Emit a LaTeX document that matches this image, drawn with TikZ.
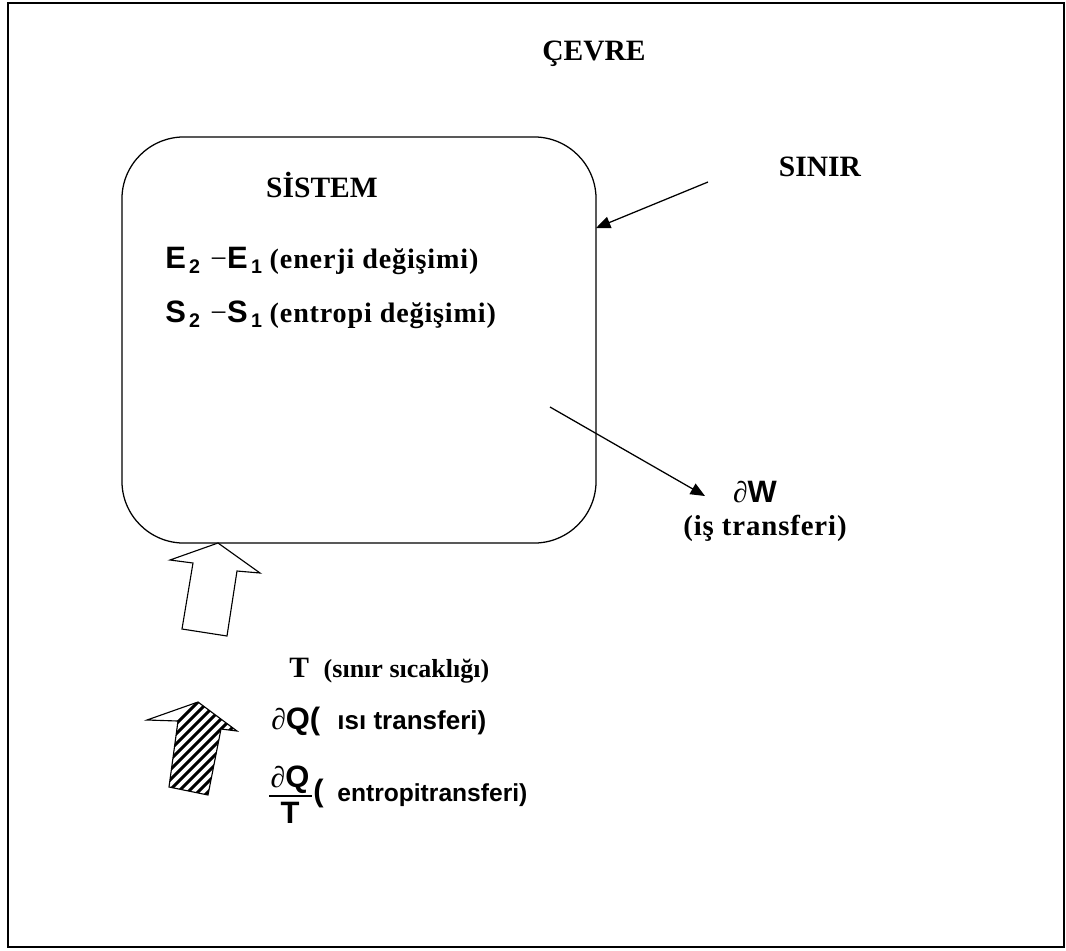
\documentclass[tikz,border=0pt]{standalone}
\usepackage{fontspec}
\setmainfont{Liberation Serif}
\newfontfamily\arialf{Liberation Sans}
\newfontfamily\spacedserif{Liberation Serif}[LetterSpace=3]
\usetikzlibrary{arrows.meta}

% helpers for the formula pieces
\newcommand{\symb}[1]{{\fontsize{21}{21}\selectfont\mdseries #1}}
\newcommand{\bsans}[1]{{\arialf\bfseries #1}}
\newcommand{\subidx}[1]{\raisebox{-0.4ex}{\fontsize{14}{14}\selectfont\arialf\bfseries #1}}

\begin{document}
\begin{tikzpicture}[x=0.025cm,y=-0.025cm,
  title/.style={font=\fontsize{21}{21}\selectfont\bfseries, inner sep=0pt},
  formula/.style={font=\fontsize{22}{22}\selectfont\bfseries, inner sep=0pt, anchor=base west},
  note/.style={font=\fontsize{18}{18}\selectfont\bfseries, inner sep=0pt},
  pointer/.style={line width=0.9pt, -{Triangle[length=3.6mm,width=3mm]}},
  outline/.style={line width=0.8pt, line join=miter}]

\useasboundingbox (0,0) rectangle (1066,950);

% environment frame
\draw[line width=1.4pt] (8,3) rectangle (1064,947);

% the system
\node[draw, line width=0.9pt, rounded corners=1.55cm,
      minimum width=11.85cm, minimum height=10.15cm] (sys) at (359,340) {};

\node[title, anchor=base] (cevre) at (594,60) {ÇEVRE};
\node[title, anchor=base] (sistem) at (322,197) {SİSTEM};
\node[title, anchor=base] (sinir) at (820,176) {SINIR};

\node[formula] (erow) at (165,268)
  {\bsans{E}\subidx{\,2}\,\,\symb{−}\bsans{E}\subidx{\,1}\ {\spacedserif\fontsize{20}{20}\selectfont(enerji değişimi)}};
\node[formula] (srow) at (165,322)
  {\bsans{S}\subidx{\,2}\,\,\symb{−}\bsans{S}\subidx{\,1}\ {\spacedserif\fontsize{20}{20}\selectfont(entropi değişimi)}};

% boundary pointer
\coordinate (sinirtail) at (708,182);
\coordinate (sinirtip) at (596,228);
\draw[pointer] (sinirtail) -- (sinirtip);

% work transfer
\coordinate (wtail) at (550,407);
\coordinate (wtip) at (705,496);
\draw[pointer] (wtail) -- (wtip);
\node[formula, anchor=base] (dw) at (755,502) {\symb{∂}\bsans{W}};
\node[note, anchor=base] (work) at (765,535) {\spacedserif\fontsize{20.5}{20.5}\selectfont (iş transferi)};

% open block arrow (heat entering the boundary)
\draw[outline, fill=white] (218,543) -- (260,573) -- (237,571) -- (227,636)
  -- (182,629) -- (193,563) -- (170,560) -- cycle;

% hatched block arrow
\begin{scope}
  \clip (198,702) -- (237,731) -- (221,729) -- (208,795)
    -- (169,787) -- (178,721) -- (147,720) -- cycle;
  \foreach \k in {-40,-30,...,160}
    \draw[line width=2.1pt] (140+\k,800) -- (240+\k,700);
\end{scope}
\draw[outline] (198,702) -- (237,731) -- (221,729) -- (208,795)
    -- (169,787) -- (178,721) -- (147,720) -- cycle;

% boundary temperature and heat transfer
\node[formula] (trow) at (289,677)
  {\fontsize{21}{21}\selectfont T\ \ {\fontsize{18.5}{18.5}\selectfont(sınır sıcaklığı)}};
\node[formula] (qrow) at (271,729)
  {\symb{∂}\bsans{Q(\ \ {\fontsize{18.5}{18.5}\selectfont ısı transferi)}}};

% entropy transfer dQ/T
\node[formula, anchor=base] (fnum) at (290,787) {\symb{∂}\bsans{Q}};
\node[formula, anchor=base] (fden) at (290,823) {\bsans{T}};
\coordinate (barleft) at (269,796);
\coordinate (barright) at (312,796);
\draw[line width=1.1pt] (barleft) -- (barright);
\node[formula] (frow) at (313,801)
  {\bsans{(\ \,{\fontsize{17.5}{17.5}\selectfont entropitransferi)}}};
\end{tikzpicture}
\end{document}
